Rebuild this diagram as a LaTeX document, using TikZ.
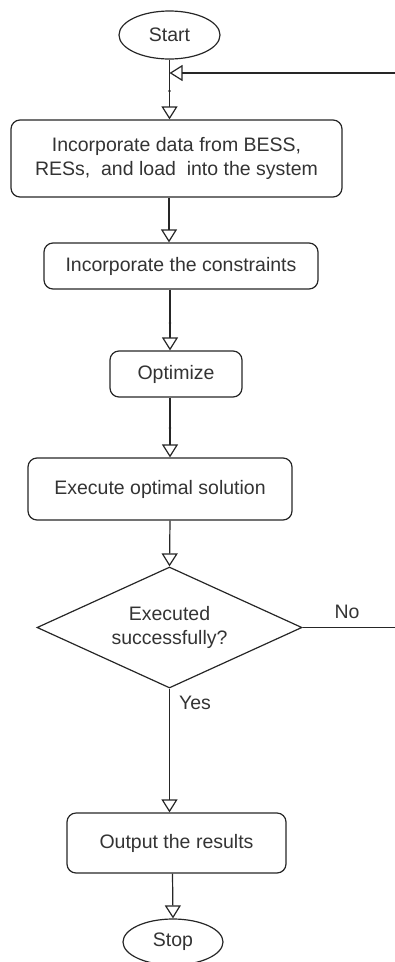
\documentclass[tikz,border=0pt]{standalone}
\usepackage{fontspec}
\setmainfont{Liberation Sans}
\usetikzlibrary{arrows.meta,shapes.geometric}
\begin{document}
\begin{tikzpicture}[x=1pt,y=-1pt,
  every node/.style={font=\fontsize{19.5}{24}\selectfont, text=black!80},
  box/.style={draw=black!85, line width=1.2pt, rounded corners=9pt, align=center, inner sep=0pt},
  term/.style={draw=black!85, line width=1.2pt, ellipse, inner sep=0pt},
  dec/.style={draw=black!85, line width=1.2pt, diamond, aspect=2.19, inner sep=0pt, align=center},
  arr/.style={draw=black!85, line width=1.2pt, -{Triangle[open, length=13pt, width=16pt]}},
  lbl/.style={inner sep=0pt}]
\useasboundingbox (0,0) rectangle (395,962);
\clip (0,0) rectangle (395,962);
\node[term, minimum width=101pt, minimum height=48pt] (start) at (169.5,35) {Start};
\node[box, minimum width=331pt, minimum height=77pt] (b1) at (176.5,158.5) {Incorporate data from BESS,\\RESs,\ \ and load\ \ into the system};
\node[box, minimum width=274pt, minimum height=46pt] (b2) at (181,266) {Incorporate the constraints};
\node[box, minimum width=132pt, minimum height=46pt] (b3) at (176,374) {Optimize};
\node[box, minimum width=264pt, minimum height=62pt] (b4) at (160,489) {Execute optimal solution};
\node[dec, minimum width=265pt, minimum height=121pt] (d) at (169.5,627.5) {Executed\\successfully?};
\node[box, minimum width=219pt, minimum height=60pt] (b5) at (176.5,843) {Output the results};
\node[term, minimum width=100pt, minimum height=46pt] (stop) at (173,942) {Stop};
\coordinate (m) at (169.5,73);
\coordinate (c1) at (169,0);
\coordinate (c2) at (170,0);
\coordinate (c3) at (172.5,0);
% connectors
\draw[arr] (start.south) -- (start.south |- b1.north);
\draw[arr] (c1 |- b1.south) -- (c1 |- b2.north);
\draw[arr] (c2 |- b2.south) -- (c2 |- b3.north);
\draw[arr] (c2 |- b3.south) -- (c2 |- b4.north);
\draw[arr] (c2 |- b4.south) -- (d.north);
\draw[arr] (d.south) -- (d.south |- b5.north);
\draw[arr] (c3 |- b5.south) -- (stop.north);
\draw[arr] (d.east) -- ++(100,0) |- (m);
% small waypoint dots
\fill[black!85] (169.5,91) circle (1.4pt);
\fill[black!85] (170,323) circle (1.4pt);
\fill[black!85] (170,428) circle (1.4pt);
% labels
\node[lbl] (no) at (347,612) {No};
\node[lbl] (yes) at (195,703) {Yes};
\end{tikzpicture}
\end{document}
